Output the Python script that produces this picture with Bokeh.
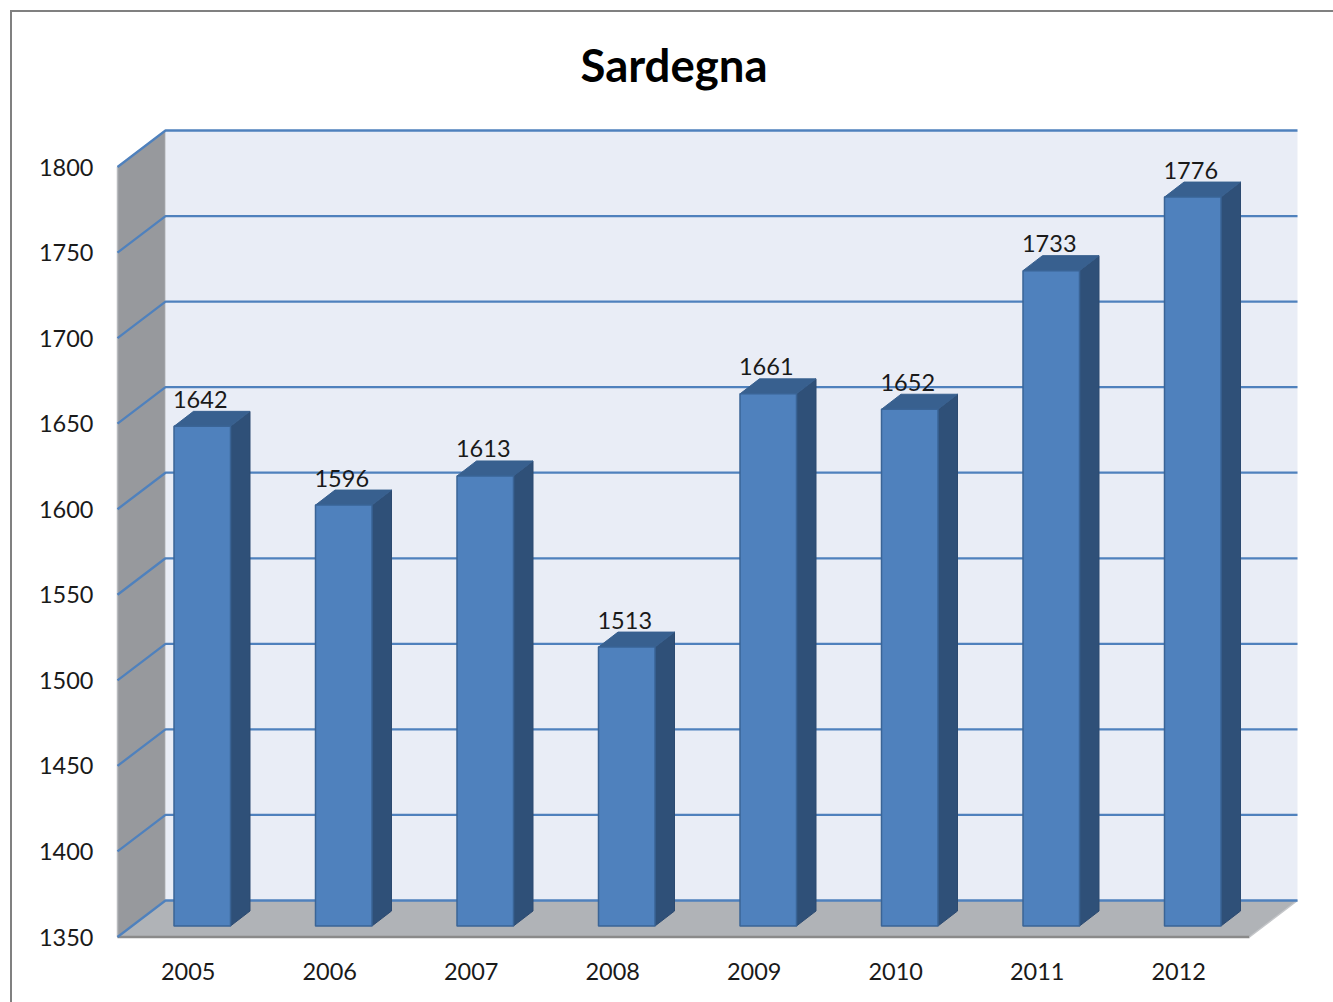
from bokeh.plotting import figure
from bokeh.models import Range1d, FixedTicker
from bokeh.core.properties import value
from bokeh.embed import file_html
from bokeh.resources import INLINE

years = ["2005", "2006", "2007", "2008", "2009", "2010", "2011", "2012"]
values = [1642, 1596, 1613, 1513, 1661, 1652, 1733, 1776]
y_ticks = [1350, 1400, 1450, 1500, 1550, 1600, 1650, 1700, 1750, 1800]

FONT = "Lato"
PX_X = 141.5            # pixels per category
PX_Y = 770 / 450        # pixels per value unit
def dx(px): return px / PX_X
def dy(px): return px / PX_Y

xs = list(range(len(years)))
x_left, x_right = -0.5, 7.5
y_base, y_top = y_ticks[0], y_ticks[-1]
wall_dx, wall_dy = dx(48), dy(36.5)
side_dx, side_dy = dx(19.5), dy(15)
inset_x, inset_y = dx(56.5), dy(11)
bar_w = dx(56.5)

border = ("linear-gradient(#808080,#808080) 10px 10px / 100% 2px no-repeat, "
          "linear-gradient(#808080,#808080) 10px 10px / 2px 100% no-repeat")

p = figure(width=1333, height=1002, output_backend="svg", toolbar_location=None,
           x_range=Range1d(-0.5 - dx(2), 7.5 + wall_dx + dx(2)),
           y_range=Range1d(y_base - dy(2.5), y_top + wall_dy + dy(5)),
           min_border_left=115, min_border_right=34, min_border_top=125, min_border_bottom=63,
           background_fill_color=None, border_fill_color=None,
           styles={"background": border},
           title="Sardegna")
p.outline_line_color = None
p.grid.visible = False

p.title.text_font = FONT
p.title.text_font_size = "45.5px"
p.title.text_font_style = "bold"
p.title.text_color = "#000000"
p.title.align = "left"
p.title.offset = 465
p.title.standoff = 67

for ax in (p.xaxis[0], p.yaxis[0]):
    ax.axis_line_color = None
    ax.major_tick_line_color = None
    ax.minor_tick_line_color = None
    ax.major_label_text_font = FONT
    ax.major_label_text_font_size = "23.5px"
    ax.major_label_text_color = "#1a1a1a"
p.yaxis[0].ticker = FixedTicker(ticks=y_ticks)
p.yaxis[0].major_label_standoff = 16
p.xaxis[0].ticker = FixedTicker(ticks=xs)
p.xaxis[0].major_label_overrides = {i: y for i, y in zip(xs, years)}
p.xaxis[0].major_label_standoff = 17

# Walls and floor
p.patch([x_left, x_left + wall_dx, x_left + wall_dx, x_left],
        [y_top, y_top + wall_dy, y_base + wall_dy, y_base],
        fill_color="#97999d", line_color="#b9bbbe", line_width=1.5)
p.quad(left=[x_left + wall_dx], right=[x_right + wall_dx],
       bottom=[y_base + wall_dy], top=[y_top + wall_dy],
       fill_color="#e9edf6", line_color=None)
p.patch([x_left, x_left + wall_dx, x_right + wall_dx, x_right],
        [y_base, y_base + wall_dy, y_base + wall_dy, y_base],
        fill_color="#b0b3b7", line_color=None)
p.line([x_left, x_right], [y_base, y_base], line_color="#8a8a8a", line_width=2.5)
p.line([x_right, x_right + wall_dx], [y_base, y_base + wall_dy], line_color="#c4c6c9", line_width=1.5)

# Gridlines
for t in y_ticks:
    p.line([x_left, x_left + wall_dx, x_right + wall_dx],
           [t, t + wall_dy, t + wall_dy],
           line_color="#4f81bd", line_width=2.3)

# Bars
for i, v in zip(xs, values):
    l = i - 0.5 + inset_x
    r = l + bar_w
    b = y_base + inset_y
    t = v + inset_y
    p.patch([r, r + side_dx, r + side_dx, r], [t, t + side_dy, b + side_dy, b],
            fill_color="#2f5078", line_color="#2c4a70", line_width=1)
    p.patch([l, l + side_dx, r + side_dx, r], [t, t + side_dy, t + side_dy, t],
            fill_color="#38608f", line_color="#38608f", line_width=1)
    p.quad(left=[l], right=[r], bottom=[b], top=[t],
           fill_color="#4f81bd", line_color="#3a6496", line_width=1.5)

p.text(x=[i - 0.5 + inset_x + bar_w / 2 - dx(2) for i in xs],
       y=[v + inset_y + dy(27) for v in values],
       text=[str(v) for v in values],
       text_font=value(FONT), text_font_size="23.5px", text_color="#1a1a1a",
       text_align="center", text_baseline="middle")

open("out.html", "w").write(file_html(p, INLINE))
